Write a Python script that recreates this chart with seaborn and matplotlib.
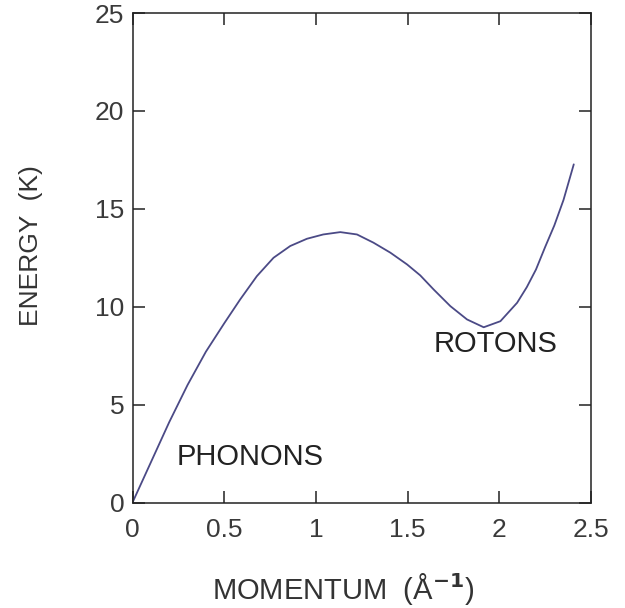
import numpy as np
import pandas as pd
import matplotlib
matplotlib.use("Agg")
import matplotlib.pyplot as plt
import seaborn as sns

# dispersion curve of superfluid helium
MOMENTUM = [0.0, 0.1, 0.2, 0.3, 0.4, 0.5, 0.587, 0.678, 0.769, 0.86, 0.951,
            1.04, 1.133, 1.224, 1.314, 1.406, 1.497, 1.569, 1.642, 1.733,
            1.824, 1.915, 2.006, 2.097, 2.15, 2.2, 2.25, 2.30, 2.35, 2.406]
ENERGY = [0.0, 2.05, 4.1, 6.0, 7.7, 9.15, 10.37, 11.56, 12.5, 13.1, 13.47,
          13.69, 13.81, 13.69, 13.27, 12.76, 12.16, 11.6, 10.88, 10.03,
          9.35, 8.95, 9.26, 10.2, 11.0, 11.9, 13.05, 14.15, 15.45, 17.27]
LABELS = [("PHONONS", 0.243, 1.93), ("ROTONS", 1.642, 7.68)]

df = pd.DataFrame({"q": MOMENTUM, "E": ENERGY})

sns.set_style("ticks")
plt.rcParams["font.family"] = ["Liberation Sans", "DejaVu Sans"]

fig = plt.figure(figsize=(6.25, 6.08), dpi=100)
ax = fig.add_axes([0.212, 0.1735, 0.7336, 0.8051])
sns.lineplot(data=df, x="q", y="E", ax=ax, color="#4b4a86", lw=1.3, sort=False)

for txt, x, y in LABELS:
    ax.text(x, y, txt, fontsize=21, color="#222222", ha="left", va="baseline")

ax.set_xlim(0, 2.5); ax.set_ylim(0, 25)
ax.set_xticks([0, 0.5, 1, 1.5, 2, 2.5])
ax.set_xticklabels(["0", "0.5", "1", "1.5", "2", "2.5"])
ax.set_yticks([0, 5, 10, 15, 20, 25])
ax.tick_params(direction="in", length=8.5, width=1.1, top=True, right=True,
               labelsize=19, labelcolor="#3a3a3a", color="#222222")
ax.tick_params(axis="x", pad=11)
ax.tick_params(axis="y", pad=6)
for s in ax.spines.values():
    s.set_linewidth(1.1); s.set_color("#222222")

ax.set_xlabel("MOMENTUM  (Å$^{\\mathbf{-1}}$)", fontsize=21, color="#333333", labelpad=21)
ax.set_ylabel("ENERGY  (K)", fontsize=19, color="#333333", labelpad=37)
ax.xaxis.label.set_x(0.46)
ax.yaxis.label.set_y(0.524)

fig.savefig("out.png", dpi=100)
